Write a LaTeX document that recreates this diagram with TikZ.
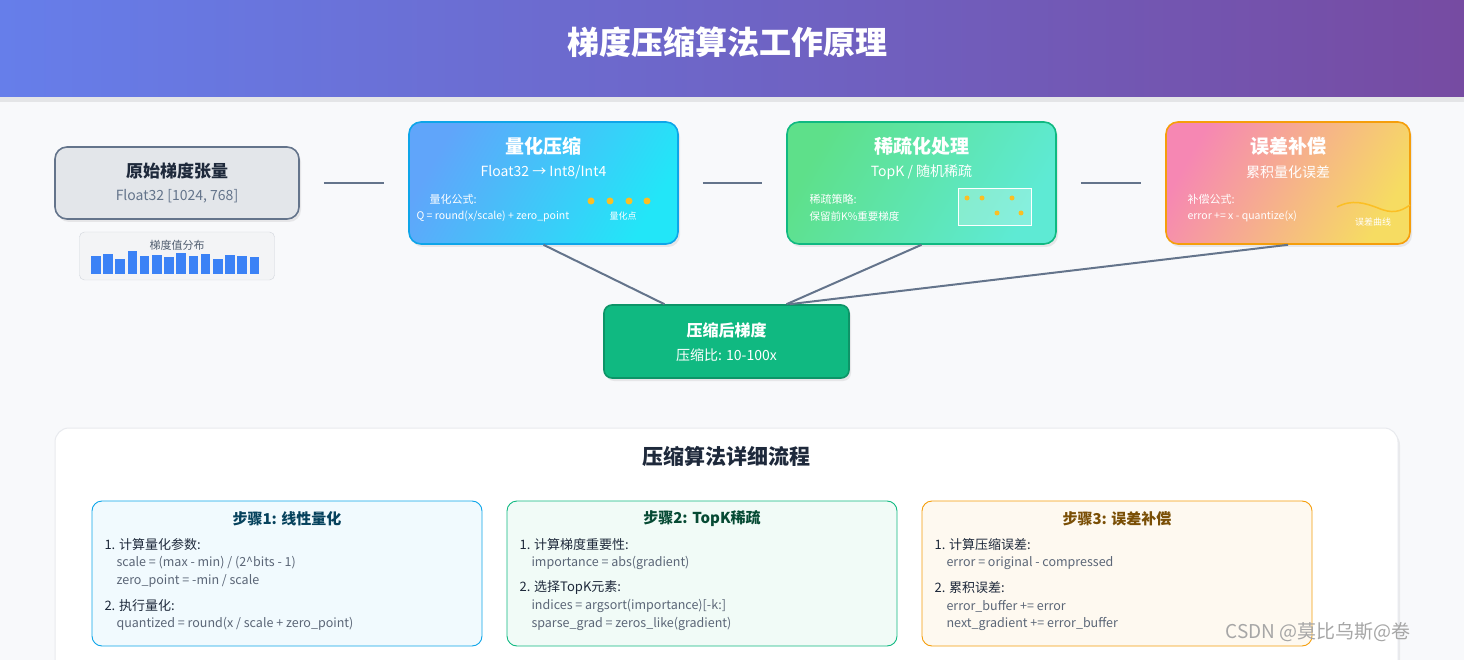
\documentclass[tikz,border=0pt]{standalone}
\usepackage{fontspec}
\setmainfont{Noto Sans CJK SC}
\usetikzlibrary{shadows}
\definecolor{bgpage}{HTML}{F8F9FB}
\definecolor{hdrL}{HTML}{667EEA}
\definecolor{hdrR}{HTML}{764BA2}
\definecolor{slate}{HTML}{64748B}
\definecolor{inkdark}{HTML}{1E293B}
\definecolor{inkcode}{HTML}{5B6677}
\definecolor{quantA}{HTML}{60A5FA}
\definecolor{quantB}{HTML}{22E6F8}
\definecolor{quantE}{HTML}{0EA5E9}
\definecolor{sparseA}{HTML}{5EE08A}
\definecolor{sparseB}{HTML}{5EEAD4}
\definecolor{sparseE}{HTML}{10B981}
\definecolor{errA}{HTML}{F687B3}
\definecolor{errB}{HTML}{F6DC62}
\definecolor{errE}{HTML}{F59E0B}
\definecolor{dotc}{HTML}{FBBF24}
\definecolor{barc}{HTML}{3B82F6}
\newcommand{\fsz}[1]{\fontsize{#1}{#1}\selectfont}
\tikzset{
  stage/.style={rounded corners=12pt, line width=1.6pt, minimum height=122pt,
    drop shadow={opacity=0.15, shadow xshift=2pt, shadow yshift=-3pt}},
  ttl/.style={text=white, font=\fsz{19}\bfseries},
  sub/.style={text=white, font=\fsz{14}},
  tiny/.style={text=white, font=\fsz{11}, anchor=west},
  link/.style={draw=slate, line width=2.2pt},
  spoke/.style={draw=slate, line width=2pt},
  stepbox/.style={rounded corners=10pt, line width=0.9pt, minimum width=390pt, minimum height=145pt},
  steptitle/.style={font=\fsz{15}\bfseries},
  stepline/.style={anchor=west, text=inkdark, font=\fsz{13}},
  codeline/.style={anchor=west, text=inkcode, font=\fsz{12.5}},
  qdot/.style={circle, fill=dotc, inner sep=0pt, minimum size=7pt}
}
\begin{document}
\begin{tikzpicture}[x=1pt, y=-1pt]
\useasboundingbox (0,0) rectangle (1464,660);
\fill[bgpage] (0,0) rectangle (1464,660);
% header
\fill[black, opacity=0.08] (0,97) rectangle (1464,102);
\shade[left color=hdrL, right color=hdrR] (0,0) rectangle (1464,97);
\node (head) at (727,42) [text=white, font=\fsz{32}\bfseries] {梯度压缩算法工作原理};

% source tensor
\node (src) at (177,183) [stage, minimum width=244pt, minimum height=72pt, fill=slate!18, draw=slate] {};
\node at (177,171) [text=inkdark, font=\fsz{17}\bfseries] {原始梯度张量};
\node at (177,196) [text=slate, font=\fsz{14}] {Float32 [1024, 768]};
\node (hist) at (177,256) [rounded corners=5pt, draw=slate!30, fill=slate!8, minimum width=195pt, minimum height=48pt] {};
\node at (177,245) [text=slate!80!black, font=\fsz{11}] {梯度值分布};
\foreach \i/\h in {0/18.7, 1/20.7, 2/15.7, 3/23, 4/18.3, 5/19.7, 6/17, 7/21.7, 8/18.3, 9/20.7, 10/15.7, 11/19.3, 12/18.3, 13/17}
  \fill[barc] ({91+\i*12.2},274.5) rectangle ++(9.6,-\h);

% quantization
\node (quant) at (543.5,183) [stage, minimum width=269pt, draw=quantE, left color=quantA, right color=quantB, shading angle=60] {};
\node at (543.5,146) [ttl] {量化压缩};
\node at (543.5,172) [sub] {Float32 → Int8/Int4};
\node at (426,199) [tiny] {量化公式:};
\node at (413,216) [tiny, font=\fsz{10.5}] {Q = round(x/scale) + zero\_point};
\foreach \x in {591,610,629,647}
  \node at (\x,201) [qdot] {};
\node at (623,216) [text=white, font=\fsz{9}] {量化点};

% sparsification
\node (sparse) at (921.5,183) [stage, minimum width=269pt, draw=sparseE, left color=sparseA, right color=sparseB, shading angle=60] {};
\node at (921.5,146) [ttl] {稀疏化处理};
\node at (921.5,172) [sub] {TopK / 随机稀疏};
\node at (806,199) [tiny] {稀疏策略:};
\node at (806,216) [tiny, font=\fsz{10.5}] {保留前K\%重要梯度};
\node (grid) at (994.5,207.5) [draw=white, line width=1pt, fill=white, fill opacity=0.25, minimum width=73pt, minimum height=37pt] {};
\foreach \x/\y in {967/198, 982/198, 1012/198, 997/213, 1021/213}
  \node at (\x,\y) [qdot, minimum size=5pt] {};

% error feedback
\node (err) at (1288,183) [stage, minimum width=244pt, draw=errE, left color=errA, right color=errB, shading angle=60] {};
\node at (1288,146) [ttl] {误差补偿};
\node at (1288,172) [sub] {累积量化误差};
\node at (1184,199) [tiny] {补偿公式:};
\node at (1184,216) [tiny, font=\fsz{10.5}] {error += x - quantize(x)};
\draw[dotc, line width=1.5pt] (1337,207) .. controls (1352,199) and (1365,203) .. (1378,208) .. controls (1392,214) and (1400,212) .. (1410,205);
\node at (1373,222) [text=white, font=\fsz{9}] {误差曲线};

% result
\node (res) at (726.5,341.5) [rounded corners=8pt, line width=1.6pt, minimum width=245pt, minimum height=73pt, fill=sparseE, draw=sparseE!80!black, drop shadow={opacity=0.15, shadow xshift=2pt, shadow yshift=-3pt}] {};
\node at (726.5,330) [text=white, font=\fsz{16}\bfseries] {压缩后梯度};
\node at (726.5,355) [text=white, font=\fsz{14}] {压缩比: 10-100x};

% connectors
\foreach \a/\b in {src/quant, quant/sparse, sparse/err}
  \path[link] ([xshift=24pt]\a.east) -- ([xshift=-24pt]\b.west);
\path[spoke] (quant.south) -- ([xshift=-62pt]res.north);
\path[spoke] (sparse.south) -- ([xshift=60pt]res.north);
\path[spoke] (err.south) -- ([xshift=63pt]res.north);

% detail panel
\node (panel) at (726.5,560) [rounded corners=14pt, fill=white, draw=slate!15, line width=1pt, minimum width=1343pt, minimum height=264pt, drop shadow={opacity=0.12, shadow xshift=2pt, shadow yshift=-3pt}] {};
\node at (726.5,456) [text=inkdark, font=\fsz{21}\bfseries] {压缩算法详细流程};

\node (s1) at (287,573.5) [stepbox, draw=quantE, fill=quantE!6] {};
\node at (287,519) [steptitle, text=quantE!40!black] {步骤1: 线性量化};
\node at (101,545) [stepline] {1. 计算量化参数:};
\node at (113,563) [codeline] {scale = (max - min) / (2\^{}bits - 1)};
\node at (113,581) [codeline] {zero\_point = -min / scale};
\node at (101,606) [stepline] {2. 执行量化:};
\node at (113,624) [codeline] {quantized = round(x / scale + zero\_point)};

\node (s2) at (702,573.5) [stepbox, draw=sparseE, fill=sparseE!6] {};
\node at (702,519) [steptitle, text=sparseE!40!black] {步骤2: TopK稀疏};
\node at (516,545) [stepline] {1. 计算梯度重要性:};
\node at (528,563) [codeline] {importance = abs(gradient)};
\node at (516,588) [stepline] {2. 选择TopK元素:};
\node at (528,606) [codeline] {indices = argsort(importance)[-k:]};
\node at (528,624) [codeline] {sparse\_grad = zeros\_like(gradient)};

\node (s3) at (1117,573.5) [stepbox, draw=errE, fill=errE!6] {};
\node at (1117,519) [steptitle, text=errE!50!black] {步骤3: 误差补偿};
\node at (931,545) [stepline] {1. 计算压缩误差:};
\node at (943,563) [codeline] {error = original - compressed};
\node at (931,588) [stepline] {2. 累积误差:};
\node at (943,606) [codeline] {error\_buffer += error};
\node at (943,624) [codeline] {next\_gradient += error\_buffer};

\node (mark) at (1318,632) [text=black!35, font=\fsz{19}] {CSDN @莫比乌斯@卷};
\end{tikzpicture}
\end{document}
